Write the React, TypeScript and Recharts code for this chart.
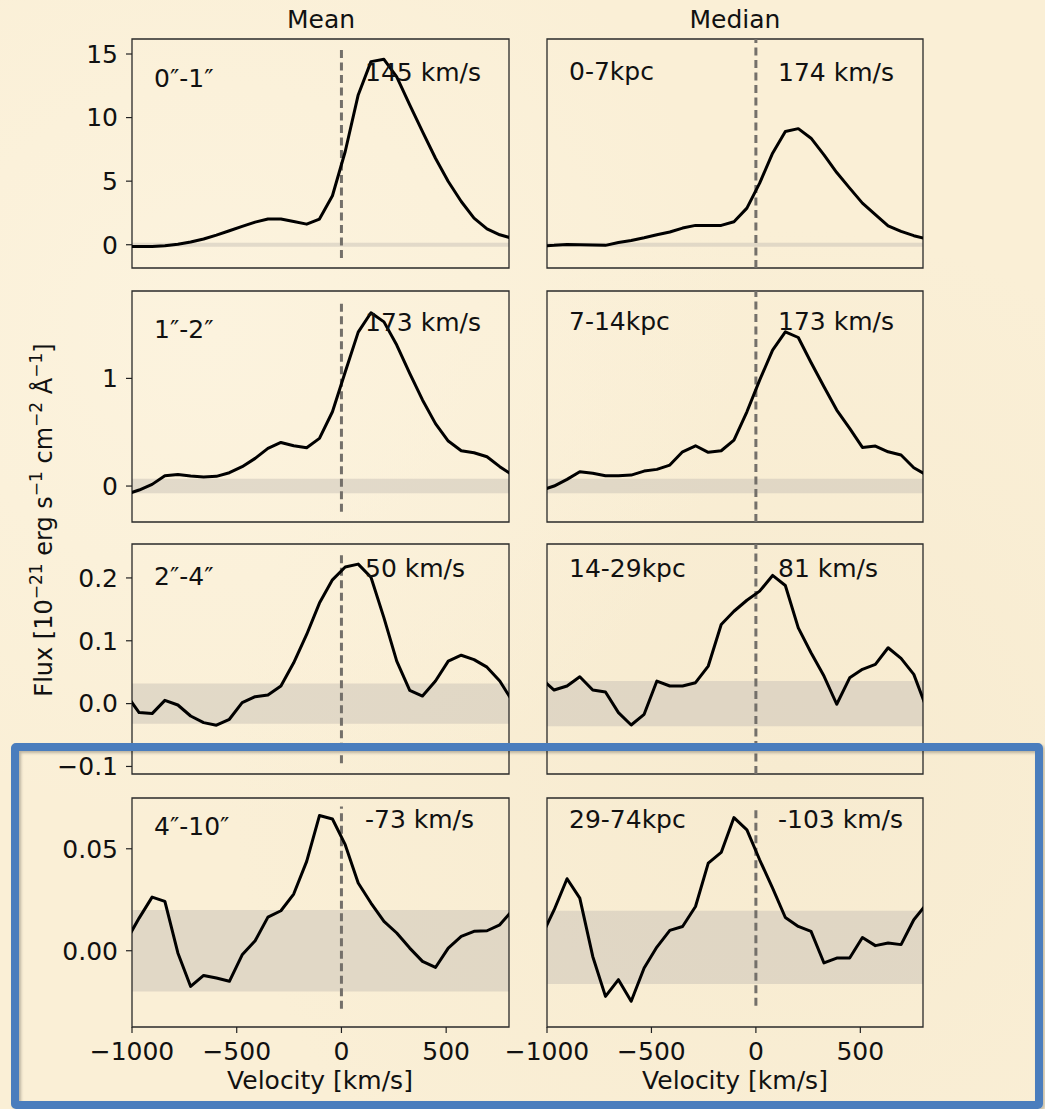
import React from "react";
import {
  LineChart,
  Line,
  XAxis,
  YAxis,
  ReferenceArea,
  ReferenceLine,
} from "recharts";

// velocity grid of the spectra (km/s)
const velocity = [
  -1027, -966, -904, -843, -781, -720, -658, -597, -535, -474, -412, -351,
  -289, -228, -166, -105, -43, 18, 80, 141, 203, 264, 326, 387, 449, 510, 572,
  633, 695, 756, 818,
];

// flux per panel (1e-21 erg/s/cm2/A)
const mean01 = [
  -0.13, -0.13, -0.13, -0.08, 0.03, 0.21, 0.45, 0.76, 1.1, 1.44, 1.78, 2.02,
  2.02, 1.83, 1.62, 2.02, 3.85, 7.33, 11.78, 14.4, 14.58, 13.2, 11.0, 8.9, 6.8,
  4.97, 3.4, 2.09, 1.25, 0.78, 0.5,
];
const median07 = [
  -0.1, -0.05, 0.026, 0.0, -0.026, -0.05, 0.18, 0.34, 0.55, 0.79, 1.0, 1.31,
  1.52, 1.52, 1.52, 1.81, 2.88, 4.84, 7.2, 8.9, 9.13, 8.38, 7.07, 5.68, 4.45,
  3.27, 2.36, 1.49, 1.05, 0.71, 0.45,
];
const mean12 = [
  -0.076, -0.037, 0.0155, 0.096, 0.108, 0.093, 0.084, 0.09, 0.124, 0.18, 0.257,
  0.35, 0.405, 0.374, 0.356, 0.443, 0.69, 1.06, 1.43, 1.61, 1.525, 1.31, 1.046,
  0.8, 0.58, 0.418, 0.328, 0.309, 0.272, 0.18, 0.1,
];
const median714 = [
  -0.038, 0.0, 0.062, 0.133, 0.118, 0.096, 0.096, 0.102, 0.139, 0.155, 0.195,
  0.318, 0.374, 0.313, 0.328, 0.427, 0.69, 0.984, 1.263, 1.433, 1.38, 1.148,
  0.922, 0.706, 0.536, 0.359, 0.371, 0.318, 0.288, 0.17, 0.1,
];
const mean24 = [
  0.014, -0.0143, -0.0159, 0.0052, -0.0022, -0.0197, -0.0302, -0.0344, -0.0249,
  0.0016, 0.011, 0.0137, 0.028, 0.065, 0.11, 0.16, 0.197, 0.2175, 0.222, 0.201,
  0.1365, 0.0677, 0.0211, 0.0121, 0.0359, 0.0677, 0.077, 0.07, 0.058, 0.036,
  0.003,
];
const median1429 = [
  0.0397, 0.0216, 0.028, 0.0428, 0.0216, 0.0185, -0.0143, -0.034, -0.017,
  0.0359, 0.028, 0.028, 0.0333, 0.0598, 0.126, 0.147, 0.1645, 0.179, 0.204,
  0.188, 0.1206, 0.081, 0.0439, -0.001, 0.041, 0.0545, 0.0624, 0.0889, 0.0719,
  0.0465, -0.008,
];
const mean410 = [
  0.005, 0.016, 0.0263, 0.0242, -0.0011, -0.0175, -0.0121, -0.0134, -0.015,
  -0.002, 0.0049, 0.0165, 0.0196, 0.0278, 0.0438, 0.0663, 0.0646, 0.052,
  0.0332, 0.0234, 0.0144, 0.0087, 0.0013, -0.0052, -0.0082, 0.0013, 0.007,
  0.0095, 0.0098, 0.0127, 0.02,
];
const median2974 = [
  0.007, 0.02, 0.0353, 0.0258, -0.0028, -0.0224, -0.0142, -0.0248, -0.0085,
  0.0018, 0.01, 0.0119, 0.0217, 0.043, 0.0482, 0.0653, 0.0593, 0.0446, 0.0307,
  0.0163, 0.0119, 0.0095, -0.006, -0.0036, -0.0036, 0.0065, 0.0025, 0.0038,
  0.003, 0.0152, 0.023,
];

const xTicks = [-1000, -500, 0, 500];
const rowDomains: [number, number][] = [
  [-1.83, 16.18],
  [-0.334, 1.812],
  [-0.112, 0.254],
  [-0.0374, 0.0749],
];
const rowTicks = [[0, 5, 10, 15], [0, 1], [-0.1, 0, 0.1, 0.2], [0, 0.05]];
const rowDigits = [0, 0, 1, 2];

// layout of the plot areas (pixels)
const colX = [132, 547];
const colW = [377, 376];
const rowY = [39, 291, 544, 798];
const rowH = [229, 231, 230, 229];

const FONT = "DejaVu Sans, Verdana, sans-serif";
const minus = (s: string) => s.replace("-", "\u2212");

const panels = [
  { row: 0, col: 0, series: mean01, band: [-0.16, 0.16], dash: [-1.04, 15.37], label: "0″-1″", value: "145 km/s", labelY: 87, valueY: 81 },
  { row: 0, col: 1, series: median07, band: [-0.16, 0.16], dash: null, label: "0-7kpc", value: "174 km/s", labelY: 80, valueY: 81 },
  { row: 1, col: 0, series: mean12, band: [-0.067, 0.067], dash: [-0.238, 1.706], label: "1″-2″", value: "173 km/s", labelY: 338, valueY: 331 },
  { row: 1, col: 1, series: median714, band: [-0.067, 0.067], dash: null, label: "7-14kpc", value: "173 km/s", labelY: 330, valueY: 330 },
  { row: 2, col: 0, series: mean24, band: [-0.032, 0.032], dash: [-0.095, 0.236], label: "2″-4″", value: "50 km/s", labelY: 585, valueY: 577 },
  { row: 2, col: 1, series: median1429, band: [-0.036, 0.036], dash: null, label: "14-29kpc", value: "81 km/s", labelY: 577, valueY: 577 },
  { row: 3, col: 0, series: mean410, band: [-0.02, 0.02], dash: [-0.0284, 0.0707], label: "4″-10″", value: "-73 km/s", labelY: 835, valueY: 828 },
  { row: 3, col: 1, series: median2974, band: [-0.0163, 0.0196], dash: [-0.027, 0.07], label: "29-74kpc", value: "-103 km/s", labelY: 828, valueY: 828 },
];

const labelX = [154, 569];
const valueX = [365, 778];

type PanelDef = (typeof panels)[number];

function Panel({ p }: { p: PanelDef }) {
  const [ymin, ymax] = rowDomains[p.row];
  const showX = p.row === 3;
  const showY = p.col === 0;
  const padL = showY ? 5 : 50;
  const yW = showY ? 90 : 0;
  const xH = showX ? 45 : 0;
  const padB = 14;
  const w = colW[p.col];
  const h = rowH[p.row];
  const width = w + padL + yW + 10;
  const height = h + 14 + padB + xH;
  const left = colX[p.col] - padL - yW;
  const top = rowY[p.row] - 14;
  const data = velocity.map((v, i) => ({ v, f: p.series[i] }));
  const dash = p.dash ?? [ymin, ymax];
  const tickStyle = { fontSize: 25, fill: "#111", fontFamily: FONT };

  return (
    <div style={{ position: "absolute", left, top }}>
      <LineChart
        width={width}
        height={height}
        data={data}
        margin={{ top: 14, right: 10, bottom: padB, left: padL }}
      >
        <XAxis
          type="number"
          dataKey="v"
          domain={[-1000, 800]}
          allowDataOverflow
          ticks={xTicks}
          hide={!showX}
          height={xH}
          axisLine={false}
          tickLine={{ stroke: "#222", strokeWidth: 1.2 }}
          tickSize={6}
          tickMargin={9}
          tick={tickStyle}
          tickFormatter={(v: number) => minus(String(v))}
          interval={0}
        />
        <YAxis
          type="number"
          domain={[ymin, ymax]}
          allowDataOverflow
          ticks={rowTicks[p.row]}
          hide={!showY}
          width={yW}
          axisLine={false}
          tickLine={{ stroke: "#222", strokeWidth: 1.2 }}
          tickSize={6}
          tickMargin={8}
          tick={tickStyle}
          tickFormatter={(v: number) => minus(v.toFixed(rowDigits[p.row]))}
          interval={0}
        />
        <ReferenceArea
          x1={-1000}
          x2={800}
          y1={p.band[0]}
          y2={p.band[1]}
          fill="#c4bdb3"
          fillOpacity={0.45}
          stroke="none"
        />
        <ReferenceLine
          segment={[
            { x: 0, y: dash[0] },
            { x: 0, y: dash[1] },
          ]}
          stroke="#74706a"
          strokeWidth={3}
          strokeDasharray="8 4.5"
        />
        <Line
          type="linear"
          dataKey="f"
          stroke="#000"
          strokeWidth={3}
          strokeLinejoin="round"
          dot={false}
          activeDot={false}
          isAnimationActive={false}
        />
        <ReferenceArea
          x1={-1000}
          x2={800}
          y1={ymin}
          y2={ymax}
          fill="none"
          stroke="#2a2a2a"
          strokeWidth={1.3}
        />
      </LineChart>
    </div>
  );
}

export default function App() {
  const textStyle = { fontFamily: FONT, fontSize: 25, fill: "#111" };
  return (
    <div
      style={{
        position: "absolute",
        left: 0,
        top: 0,
        width: 1045,
        height: 1109,
        overflow: "hidden",
        background:
          "radial-gradient(ellipse at 20% 30%, #fcf3de 0%, rgba(252,243,222,0) 45%), radial-gradient(ellipse at 75% 70%, #f7ebd0 0%, rgba(247,235,208,0) 50%), #faefd6",
      }}
    >
      {panels.map((p, i) => (
        <Panel key={i} p={p} />
      ))}
      <svg
        width={1045}
        height={1109}
        style={{ position: "absolute", left: 0, top: 0, pointerEvents: "none" }}
      >
        <text x={321} y={28} textAnchor="middle" {...textStyle}>
          Mean
        </text>
        <text x={735} y={28} textAnchor="middle" {...textStyle}>
          Median
        </text>
        {panels.map((p, i) => (
          <g key={i}>
            <text x={labelX[p.col]} y={p.labelY} {...textStyle}>
              {p.label}
            </text>
            <text x={valueX[p.col]} y={p.valueY} {...textStyle}>
              {p.value}
            </text>
          </g>
        ))}
        <text x={320} y={1089} textAnchor="middle" {...textStyle}>
          Velocity [km/s]
        </text>
        <text x={735} y={1089} textAnchor="middle" {...textStyle}>
          Velocity [km/s]
        </text>
        <text
          x={52}
          y={520}
          textAnchor="middle"
          transform="rotate(-90 52 520)"
          {...textStyle}
          fontSize={24}
        >
          Flux [10
          <tspan dy={-10} fontSize={17}>
            −21
          </tspan>
          <tspan dy={10}> erg s</tspan>
          <tspan dy={-10} fontSize={17}>
            −1
          </tspan>
          <tspan dy={10}> cm</tspan>
          <tspan dy={-10} fontSize={17}>
            −2
          </tspan>
          <tspan dy={10}> Å</tspan>
          <tspan dy={-10} fontSize={17}>
            −1
          </tspan>
          <tspan dy={10}>]</tspan>
        </text>
      </svg>
      <div
        style={{
          position: "absolute",
          left: 11,
          top: 743,
          width: 1032,
          height: 366,
          boxSizing: "border-box",
          border: "8px solid #4a7dbd",
          borderRadius: 5,
          boxShadow: "inset 2px 2px 3px rgba(0,0,0,0.25), 2px 2px 3px rgba(0,0,0,0.2)",
          pointerEvents: "none",
        }}
      />
    </div>
  );
}
